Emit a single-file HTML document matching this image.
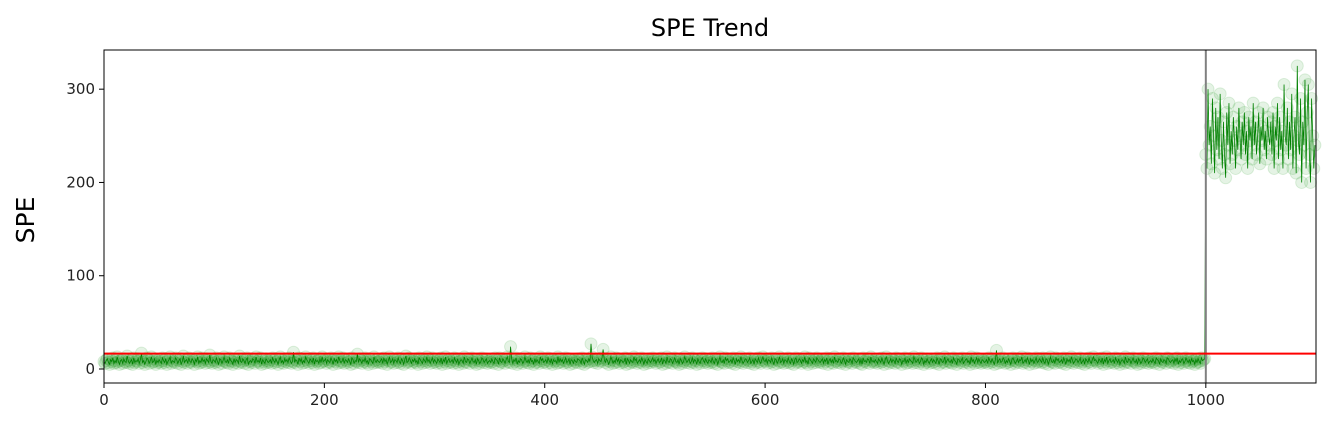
<!DOCTYPE html>
<html><head><meta charset="utf-8"><style>
body{margin:0;background:#fff;font-family:"Liberation Sans","DejaVu Sans",sans-serif}
svg text{font-family:"DejaVu Sans","Liberation Sans",sans-serif}
</style></head><body>
<svg id="chart" width="1325" height="430" xmlns="http://www.w3.org/2000/svg">
<text x="710" y="36" font-size="24" text-anchor="middle" fill="#000">SPE Trend</text>
<text x="0" y="0" font-size="25" text-anchor="middle" fill="#000" transform="translate(34,220) rotate(-90)">SPE</text>
<g id="marks"></g>
<g id="axes"></g>
</svg>
<script>
const normalStr = "8 6 9 11 7 5 10 8 12 6 9 7 13 8 5 9 10 6 11 8 7 14 9 6 8 10 5 12 7 9 8 11 6 10 17 7 9 5 8 12 10 6 9 13 7 8 11 5 9 7 "+
"10 8 6 12 9 7 11 5 8 10 13 6 9 8 7 12 10 6 9 11 5 8 14 7 9 10 6 12 8 7 11 9 5 10 8 13 6 9 7 12 8 10 6 11 9 7 15 8 6 10 "+
"9 7 12 8 5 11 10 6 9 13 8 7 10 6 12 9 8 5 11 7 10 9 6 14 8 7 11 9 6 10 12 5 8 9 7 11 10 6 13 8 9 7 12 5 10 8 6 11 9 7 "+
"8 10 6 12 9 7 11 8 5 10 13 7 9 6 11 8 10 7 12 9 6 8 18 7 10 9 5 12 8 11 6 9 7 13 10 8 6 11 9 7 12 5 10 8 9 6 11 7 13 8 "+
"9 11 6 10 8 7 12 9 5 11 8 10 6 13 9 7 8 12 6 10 9 7 11 8 5 12 10 6 9 8 16 7 11 9 6 10 8 12 7 9 5 11 10 8 6 13 9 7 10 8 "+
"7 9 11 6 12 8 10 5 9 13 7 8 11 6 10 9 7 12 8 6 11 9 5 10 14 7 8 12 9 6 10 8 11 7 9 5 12 10 8 6 11 9 7 13 8 10 6 9 12 7 "+
"10 8 6 11 9 7 12 5 10 8 13 6 9 11 7 8 10 6 12 9 7 11 5 8 10 9 6 13 8 7 11 10 6 9 12 8 7 10 5 11 9 6 8 12 10 7 9 11 6 8 "+
"9 7 11 8 6 12 10 9 5 12 8 7 11 9 6 10 13 8 7 24 11 6 10 8 12 5 9 7 11 10 6 8 13 9 7 10 6 12 8 9 5 11 7 10 8 6 13 9 11 7 "+
"8 10 6 12 9 7 11 5 10 8 9 6 13 7 11 8 10 6 9 12 7 8 11 5 10 9 6 10 8 7 11 10 9 6 12 8 5 10 9 7 11 8 27 13 9 7 9 10 6 11 "+
"9 8 12 21 10 7 11 9 5 8 13 10 6 9 7 12 8 11 6 10 9 7 8 12 5 11 9 6 10 8 7 13 9 11 6 8 10 7 12 9 5 10 8 6 11 9 7 9 12 8 "+
"10 6 9 11 7 8 12 5 10 9 6 13 8 7 11 10 6 9 12 8 7 10 5 11 9 6 8 13 10 7 9 11 6 8 12 7 10 9 5 11 8 6 10 12 9 7 11 8 6 10 "+
"9 7 12 8 6 11 10 5 9 13 8 7 10 6 12 9 11 7 8 10 6 12 9 5 11 8 10 7 13 9 6 8 11 10 7 9 12 6 8 10 5 11 9 7 12 8 6 10 13 9 "+
"8 11 6 10 9 7 12 8 5 11 10 6 9 13 7 8 11 6 10 9 7 12 8 6 11 9 5 10 12 7 8 11 9 6 10 8 13 7 9 5 12 10 8 6 11 9 7 12 10 8 "+
"7 9 11 6 10 8 12 5 9 11 7 10 6 13 8 9 7 11 10 6 8 12 9 5 10 8 7 11 9 6 12 10 8 7 9 11 6 10 5 12 8 9 7 11 10 6 13 8 9 7 "+
"10 8 6 11 9 7 12 8 5 10 13 9 6 8 11 7 10 9 6 12 8 7 11 10 5 9 8 12 6 10 7 11 9 8 6 13 10 7 9 11 6 8 12 10 5 9 7 11 8 6 "+
"9 11 7 10 8 6 12 9 5 11 10 7 8 13 6 9 11 8 7 10 6 12 9 8 5 11 10 7 9 12 6 8 10 11 7 9 5 13 8 10 6 9 12 7 11 8 6 10 9 7 "+
"8 10 6 12 9 7 11 8 5 10 20 6 9 11 7 8 12 10 6 9 7 11 8 5 10 12 9 6 8 11 7 10 9 13 6 8 10 7 12 9 5 11 8 10 6 9 12 7 8 11 "+
"9 7 12 8 6 11 10 5 9 13 8 7 10 6 12 9 11 7 8 10 6 12 9 5 11 8 10 7 13 9 6 8 11 10 7 9 12 6 8 10 5 11 9 7 12 8 6 10 13 9 "+
"10 8 6 11 9 7 12 5 10 8 13 6 9 11 7 8 10 6 12 9 7 11 5 8 10 9 6 13 8 7 11 10 6 9 12 8 7 10 5 11 9 6 8 12 10 7 9 11 6 8 "+
"9 7 11 8 6 12 10 9 5 11 8 7 10 9 6 12 11 8 7 9 10 6 11 8 12 5 9 7 10 11 6 8 12 9 7 10 6 11 8 9 5 10 7 11 8 6 12 9 10 11";
const faultStr = "230 215 300 240 260 220 290 250 210 280 235 270 225 295 245 215 265 230 205 275 240 285 220 255 230 270 245 215 260 235 "+
"280 250 225 265 240 275 230 255 215 270 245 260 225 285 240 265 230 250 275 220 260 245 280 235 255 225 270 250 240 265 "+
"230 275 215 260 245 285 225 270 235 255 215 305 250 240 280 225 265 235 295 215 250 270 210 325 245 230 290 200 265 240 "+
"310 215 275 305 230 200 290 250 215 240";
const spe = normalStr.split(" ").map(Number).concat(faultStr.split(" ").map(Number));
const controlLimit = [16.5];
const faultStart = [1000];
const xTicks = [0,200,400,600,800,1000];
const yTicks = [0,100,200,300];

const L=104,R=1316,T=50,B=383, xMin=0,xMax=1100,yMin=-15,yMax=342;
const sx=v=>L+(v-xMin)/(xMax-xMin)*(R-L);
const sy=v=>B-(v-yMin)/(yMax-yMin)*(B-T);
const NS="http://www.w3.org/2000/svg";
const mk=(t,a,p)=>{const e=document.createElementNS(NS,t);for(const k in a)e.setAttribute(k,a[k]);p.appendChild(e);return e;};
const marks=document.getElementById('marks'), axes=document.getElementById('axes');

const pts=spe.map((v,i)=>sx(i).toFixed(2)+","+sy(v).toFixed(2)).join(" ");
const cg=mk('g',{fill:'#2ca02c','fill-opacity':'0.12',stroke:'#2ca02c','stroke-opacity':'0.15','stroke-width':1},marks);


spe.forEach((v,i)=>{const c=mk('circle',{cx:sx(i),cy:sy(v),r:6},cg);

});
const line=mk('polyline',{points:pts,fill:'none',stroke:'green','stroke-width':0.8},marks);


const vl=mk('line',{x1:sx(faultStart[0]),x2:sx(faultStart[0]),y1:T,y2:B,stroke:'gray','stroke-width':2},marks);


const cl=mk('line',{x1:L,x2:R,y1:sy(controlLimit[0]),y2:sy(controlLimit[0]),stroke:'red','stroke-width':2},marks);



const fr=mk('rect',{x:L,y:T,width:R-L,height:B-T,fill:'none',stroke:'#000','stroke-width':1},axes);


xTicks.forEach(t=>{const x=sx(t);
const tl=mk('line',{x1:x,x2:x,y1:B,y2:B+5,stroke:'#000'},axes);


const tx=mk('text',{x:x,y:B+22,'font-size':15,'text-anchor':'middle',fill:'#222'},axes);tx.textContent=t;

});
yTicks.forEach(t=>{const y=sy(t);
const tl=mk('line',{x1:L-5,x2:L,y1:y,y2:y,stroke:'#000'},axes);


const tx=mk('text',{x:L-9,y:y+5,'font-size':15,'text-anchor':'end',fill:'#222'},axes);tx.textContent=t;

});
</script>
</body></html>
